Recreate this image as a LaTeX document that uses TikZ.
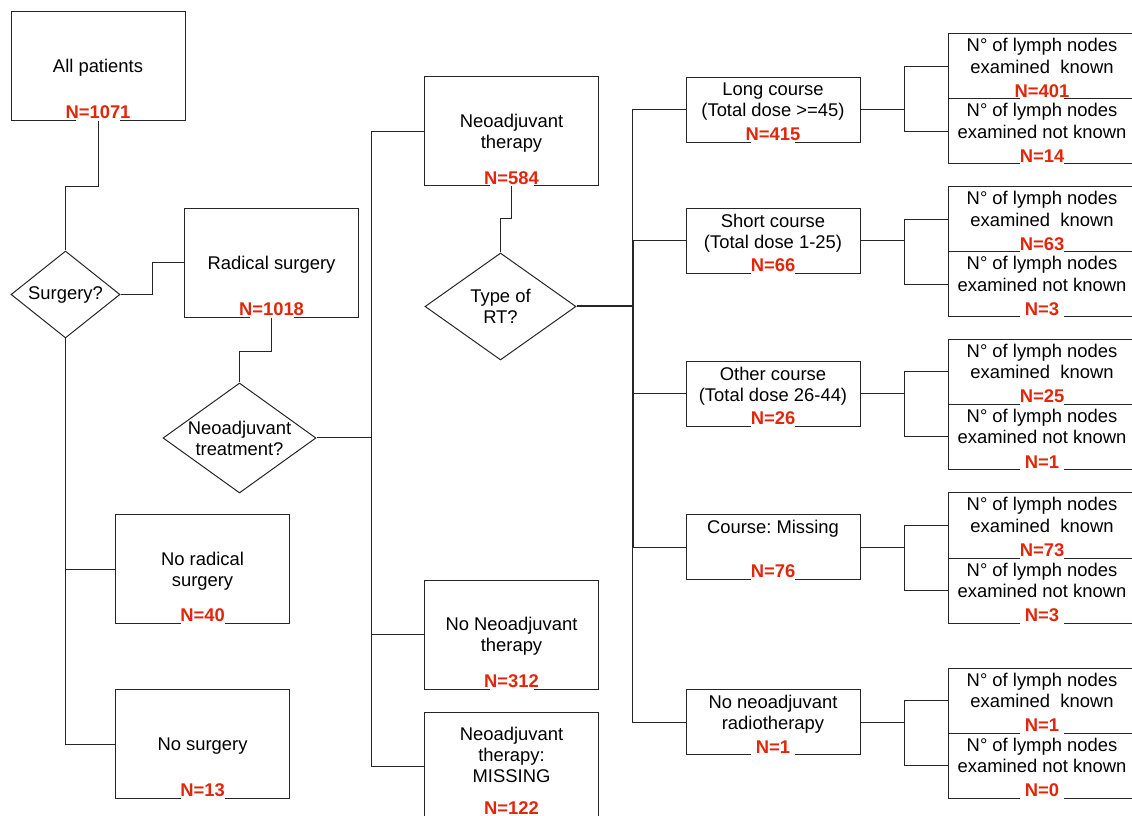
\documentclass[tikz,border=0pt]{standalone}
\usepackage{fontspec}
\setmainfont{Liberation Sans}
\usetikzlibrary{shapes.geometric,positioning,calc}
\definecolor{nred}{RGB}{226,38,10}

\begin{document}
\begin{tikzpicture}[x=0.75pt, y=-0.75pt, line width=0.75pt,
  font=\fontsize{13.8}{15.8}\selectfont,
  box/.style={draw=black!85, minimum width=130.5pt, minimum height=81.75pt, align=center, inner sep=0pt, text depth=0pt},
  course/.style={draw=black!85, minimum width=130.5pt, minimum height=48.75pt},
  lymph/.style={draw=black!85, minimum width=141pt, minimum height=48.75pt},
  quest/.style={draw=black!85, diamond, inner sep=0pt},
  txt/.style={align=center, inner sep=0pt},
  nlab/.style={anchor=south, fill=white, text=nred, font=\fontsize{13.8}{15.8}\selectfont\bfseries,
    inner xsep=0pt, inner ysep=1.5pt, yshift=-0.5pt,
    execute at begin node={\hbox to 33pt\bgroup\hss}, execute at end node={\hss\egroup}},
  wire/.style={draw=black!85}]
  \useasboundingbox (0,0) rectangle (1132,816);

  \node[box] (all) at (98,66) {All patients};
  \node[nlab] (allN) at (all.south) {N=1071};
  \node[quest, minimum width=81.75pt, minimum height=65.25pt, label={[txt]center:Surgery?}] (dSurg) at (65.5,294.5) {};
  \node[box] (rad) at (271.5,263) {Radical surgery};
  \node[nlab] (radN) at (rad.south) {N=1018};
  \node[quest, minimum width=114.75pt, minimum height=82.5pt, label={[txt]center:Neoadjuvant\\treatment?}] (dNeo) at (239.5,438) {};
  \node[box] (norad) at (202.5,569) {No radical\\surgery};
  \node[nlab] (noradN) at (norad.south) {N=40};
  \node[box] (nosurg) at (202.5,744) {No surgery};
  \node[nlab] (nosurgN) at (nosurg.south) {N=13};

  \node[box] (neo) at (511.5,131.5) {Neoadjuvant\\therapy};
  \node[nlab] (neoN) at (neo.south) {N=584};
  \node[box] (noneo) at (511.5,634.5) {No Neoadjuvant\\therapy};
  \node[nlab] (noneoN) at (noneo.south) {N=312};
  \node[box] (miss) at (511.5,766.5) {};
  \node[txt] (missT) at ([yshift=8.6pt]miss.center) {Neoadjuvant\\therapy:\\MISSING};
  \node[nlab] (missN) at ([yshift=4pt]miss.south) {N=122};
  \node[quest, minimum width=113.25pt, minimum height=80.25pt, label={[txt]center:Type of\\RT?}] (dRT) at (500.5,306.5) {};

  \foreach \i/\y/\t/\n in {1/110/{Long course\\(Total dose >=45)}/415,
      2/241/{Short course\\(Total dose 1-25)}/66,
      3/394/{Other course\\(Total dose 26-44)}/26,
      4/547/{Course:\ Missing}/76,
      5/722/{No neoadjuvant\\radiotherapy}/1} {
    \node[course] (course\i) at (773,\y) {};
    \node[txt, anchor=north] (courseT\i) at ([yshift=-4pt]course\i.north) {\t};
    \node[nlab] (courseN\i) at (course\i.south) {N=\n};
  }

  \foreach \i/\y/\a/\b in {1/66.5/401/14, 2/219.5/63/3, 3/372/25/1, 4/525.5/73/3, 5/700.5/1/0} {
    \node[lymph] (known\i) at (1042,\y) {};
    \node[lymph] (unknown\i) at (1042,\y+65) {};
    \node[txt, anchor=north] (knownT\i) at ([yshift=-3.5pt]known\i.north) {N° of lymph nodes\\examined\ \ known};
    \node[nlab] (knownN\i) at (known\i.south) {N=\a};
    \node[txt, anchor=north] (unknownT\i) at ([yshift=-3.5pt]unknown\i.north) {N° of lymph nodes\\examined not known};
    \node[nlab] (unknownN\i) at (unknown\i.south) {N=\b};
  }

  \draw[wire] (all.south) -- ++(0,66) -| (dSurg.north);
  \draw[wire] (dSurg.east) -- ++(32,0) |- (rad.west);
  \draw[wire] (rad.south) -- ++(0,34) -| (dNeo.north);
  \draw[wire] (dSurg.south) |- (norad.west);
  \draw[wire] (dSurg.south) |- (nosurg.west);

  \draw[wire] (dNeo.east) -- ++(55,0) coordinate (busA);
  \draw[wire] (neo.west) -| (busA) |- (miss.west);
  \draw[wire] (busA) |- (noneo.west);

  \draw[wire] (neo.south) -- ++(0,32) -| (dRT.north);
  \draw[wire, line width=1.5pt] (dRT.east) -- ++(56,0) coordinate (busB);
  \draw[wire] (course1.west) -| (busB) |- (course5.west);
  \draw[wire, line width=1.5pt] (busB |- course2.west) -- (busB |- course4.west);
  \foreach \i in {2,3,4}
    \draw[wire] (busB) |- (course\i.west);

  \foreach \i in {1,...,5} {
    \draw[wire] (course\i.east) -- ++(44,0) coordinate (split\i);
    \draw[wire] (known\i.west) -| (split\i) |- (unknown\i.west);
  }
\end{tikzpicture}
\end{document}
